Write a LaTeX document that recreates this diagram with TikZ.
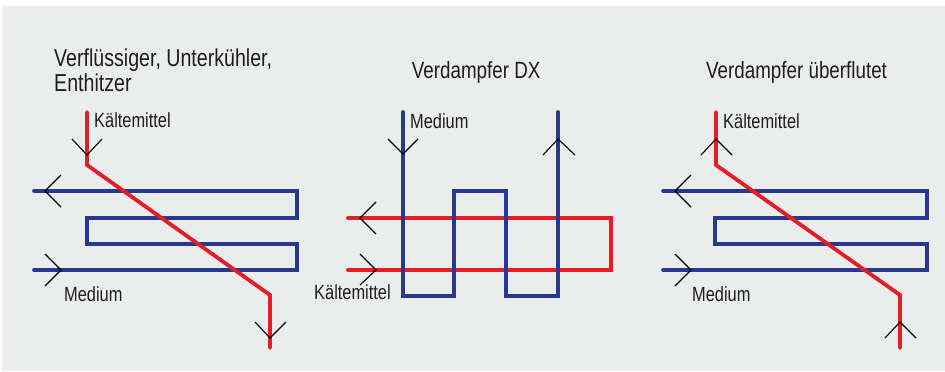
\documentclass[tikz,border=0pt]{standalone}
\usepackage{fontspec}
\setmainfont{Liberation Sans}[FakeStretch=0.8]
\definecolor{bg}{RGB}{235,236,236}
\definecolor{kred}{RGB}{228,30,38}
\definecolor{kblue}{RGB}{40,56,142}
\definecolor{txt}{RGB}{30,30,30}
\tikzset{
  redline/.style={draw=kred,line width=3.8pt,line join=miter,line cap=round},
  blueline/.style={draw=kblue,line width=3.6pt,line join=miter,line cap=round},
  chev/.style={draw=black,line width=1.1pt},
  title/.style={anchor=base west,inner sep=0pt,text=txt,font=\fontsize{23.5}{25}\selectfont,align=left},
  lbl/.style={anchor=base west,inner sep=0pt,text=txt,font=\fontsize{20.5}{22}\selectfont}
}
\begin{document}
\begin{tikzpicture}[x=1pt,y=-1pt]
\useasboundingbox (0,0) rectangle (945,372);
\fill[white] (0,0) rectangle (945,372);
\fill[bg] (2,6) rectangle (945,371);

% ---------- Panel 1: Verfluessiger ----------
\node[title,font=\fontsize{24.5}{25}\selectfont] (t1) at (54,91.7) {Verflüssiger, Unterkühler,\\[0pt]Enthitzer};
\draw[blueline] (34,191) -- (297,191) -- (297,218) -- (87,218) -- (87,244) -- (297,244) -- (297,270) -- (34,270);
\draw[redline] (87,112) -- (87,165) -- (270,295) -- (270,348);
\draw[chev] (72,139) -- (87,155) -- (102,139);
\draw[chev] (255,322) -- (270,338) -- (286,322);
\draw[chev] (61,175) -- (45,191) -- (61,207);
\draw[chev] (45,254) -- (61,270) -- (45,286);
\node[lbl] (k1) at (94,127.7) {Kältemittel};
\node[lbl] (m1) at (64,301) {Medium};

% ---------- Panel 2: Verdampfer DX ----------
\node[title] (t2) at (411.7,78.3) {Verdampfer DX};
\draw[redline] (348,218) -- (611,218) -- (611,270) -- (348,270);
\draw[blueline] (403,112) -- (403,296) -- (454,296) -- (454,191) -- (506,191) -- (506,296) -- (558,296) -- (558,112);
\draw[chev] (388,139) -- (403,154) -- (418,139);
\draw[chev] (543,155) -- (558,139) -- (575,155);
\draw[chev] (376,202) -- (360,218) -- (376,234);
\draw[chev] (360,254) -- (376,270) -- (360,285);
\node[lbl] (m2) at (410,128.3) {Medium};
\node[lbl] (k2) at (314,299.3) {Kältemittel};

% ---------- Panel 3: Verdampfer ueberflutet ----------
\node[title] (t3) at (706,78.3) {Verdampfer überflutet};
\draw[blueline] (663,191) -- (927,191) -- (927,218) -- (715,218) -- (715,244) -- (927,244) -- (927,270) -- (663,270);
\draw[redline] (716,112) -- (716,165) -- (900,295) -- (900,348);
\draw[chev] (701,155) -- (716,139) -- (732,155);
\draw[chev] (885,338) -- (900,322) -- (916,338);
\draw[chev] (691,175) -- (675,191) -- (691,207);
\draw[chev] (675,254) -- (691,270) -- (675,286);
\node[lbl] (k3) at (723,128) {Kältemittel};
\node[lbl] (m3) at (692,301) {Medium};
\end{tikzpicture}
\end{document}
